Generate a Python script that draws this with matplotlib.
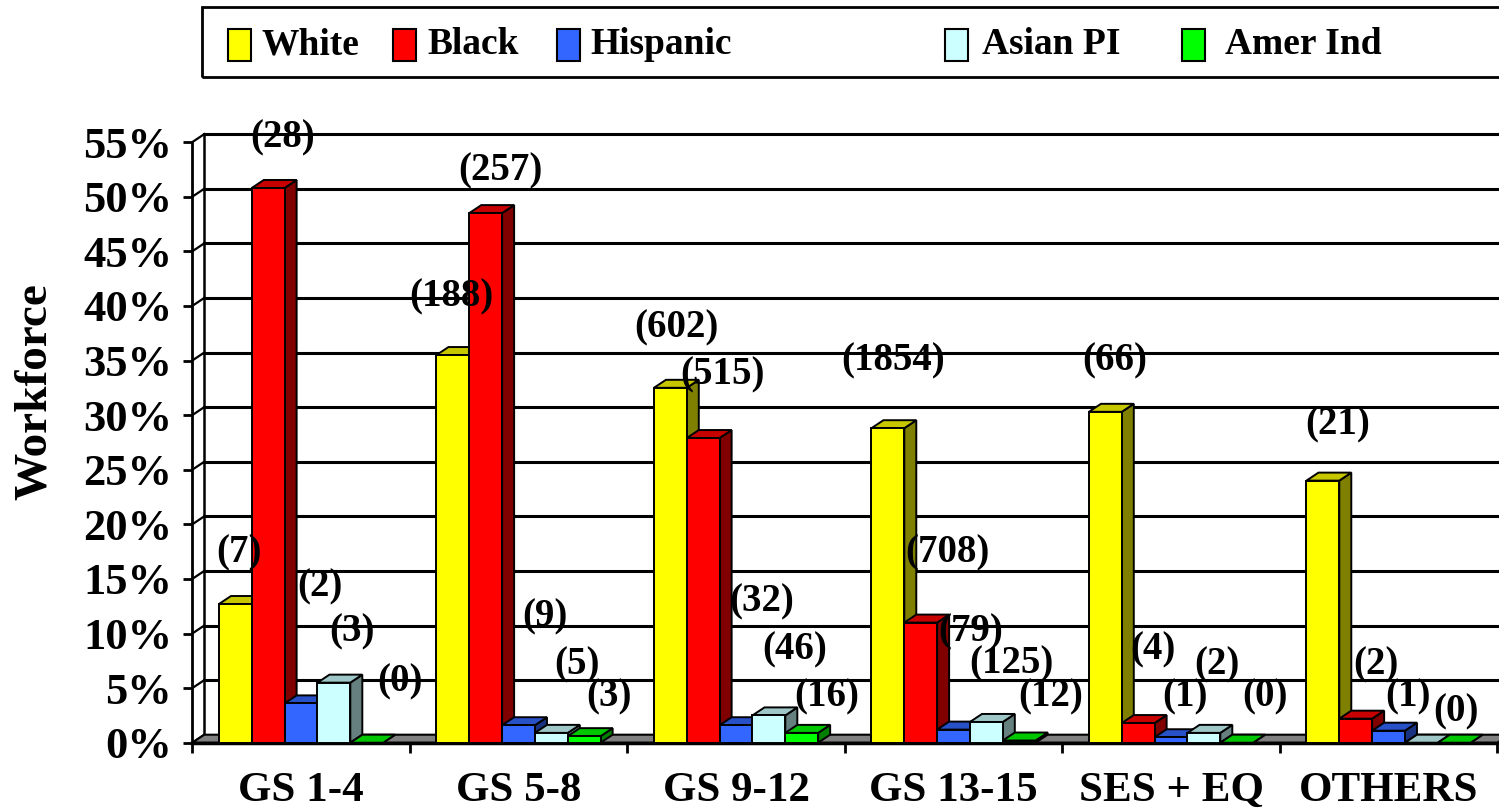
import matplotlib
matplotlib.use("Agg")
import matplotlib.pyplot as plt
from matplotlib.patches import Polygon, Rectangle
from matplotlib.colors import to_rgb

# Данные
categories = ["GS 1-4", "GS 5-8", "GS 9-12", "GS 13-15", "SES + EQ", "OTHERS"]
series = ["White", "Black", "Hispanic", "Asian PI", "Amer Ind"]

white = [12.7, 35.5, 32.5, 28.8, 30.3, 24.0]
black = [50.8, 48.5, 27.9, 11.0, 1.8, 2.2]
hispanic = [3.6, 1.6, 1.6, 1.2, 0.5, 1.1]
asian = [5.5, 0.9, 2.5, 1.9, 0.9, 0.0]
amerind = [0.0, 0.6, 0.9, 0.2, 0.0, 0.0]

white_n = [7, 188, 602, 1854, 66, 21]
black_n = [28, 257, 515, 708, 4, 2]
hispanic_n = [2, 9, 32, 79, 1, 1]
asian_n = [3, 5, 46, 125, 2, None]
amerind_n = [0, 3, 16, 12, 0, 0]

values = [white, black, hispanic, asian, amerind]
counts = [white_n, black_n, hispanic_n, asian_n, amerind_n]

# положение подписей (высота в %, сдвиг вправо в пикселях)
label_y = [
    [17.4, 40.8, 38.0, 35.0, 35.0, 29.1],
    [55.4, 52.4, 33.7, 17.4, 8.5, 7.1],
    [14.3, 11.5, 12.9, 10.1, 4.2, 4.2],
    [10.1, 7.1, 8.5, 7.2, 7.1, 0.0],
    [5.6, 4.2, 4.2, 4.2, 4.2, 2.8],
]
label_dx = [
    [4, -1, 6, 5, 9, 15],
    [14, 15, 19, 27, 15, 20],
    [19, 26, 26, 17, 14, 19],
    [18, 26, 26, 25, 13, 0],
    [33, 25, 25, 31, 28, 2],
]

colors = ["#FFFF00", "#FF0000", "#3366FF", "#CCFFFF", "#00FF00"]


def shade(c, k):
    r, g, b = to_rgb(c)
    return (r * k, g * k, b * k)


plt.rcParams["font.family"] = ["Liberation Serif", "DejaVu Serif"]
plt.rcParams["font.weight"] = "bold"

W, H = 1499, 808
fig = plt.figure(figsize=(W / 100, H / 100), dpi=100)

ax_l, ax_r, ax_b, ax_t = 192.3, 1497.3, 742.7, 142.1
ax = fig.add_axes([ax_l / W, 1 - ax_b / H, (ax_r - ax_l) / W, (ax_b - ax_t) / H])
ax.set_xlim(0, 6)
ax.set_ylim(0, 55)

px_x = 6 / (ax_r - ax_l)
px_y = 55 / (ax_b - ax_t)
dx = 12 * px_x
dy = 8 * px_y

# Задняя стенка и сетка
for v in range(5, 60, 5):
    ax.plot([dx, 6 + dx], [v + dy, v + dy], color="black", lw=2.2, clip_on=False, zorder=1)
for v in range(0, 60, 5):
    ax.plot([0, dx], [v, v + dy], color="black", lw=1.6, clip_on=False, zorder=1)
ax.plot([dx, dx], [dy, 55 + dy], color="black", lw=1.8, clip_on=False, zorder=1)

# Пол
floor = Polygon([(0, 0), (6, 0), (6 + dx, dy), (dx, dy)], closed=True,
                facecolor="#808080", edgecolor="black", lw=1.5, clip_on=False, zorder=2)
ax.add_patch(floor)

# Столбцы
w = 0.151
start = (1 - 5 * w) / 2
z = 3
for ci in range(len(categories)):
    for si in range(len(series)):
        h = values[si][ci]
        x0 = ci + start + si * w
        c = colors[si]
        front = Rectangle((x0, 0), w, h, facecolor=c, edgecolor="black", lw=1.4,
                          clip_on=False, zorder=z)
        top = Polygon([(x0, h), (x0 + w, h), (x0 + w + dx, h + dy), (x0 + dx, h + dy)],
                      closed=True, facecolor=shade(c, 0.78), edgecolor="black", lw=1.4,
                      clip_on=False, zorder=z)
        side = Polygon([(x0 + w, 0), (x0 + w + dx, dy), (x0 + w + dx, h + dy), (x0 + w, h)],
                       closed=True, facecolor=shade(c, 0.5), edgecolor="black", lw=1.4,
                       clip_on=False, zorder=z)
        ax.add_patch(side)
        ax.add_patch(top)
        ax.add_patch(front)
        z += 0.01

# Подписи значений
for si in range(len(series)):
    for ci in range(len(categories)):
        n = counts[si][ci]
        if n is None:
            continue
        xc = ci + start + si * w + w / 2 + label_dx[si][ci] * px_x
        ax.text(xc, label_y[si][ci], f"({n})", ha="center", va="center",
                fontsize=28, fontweight="bold", zorder=20, clip_on=False)

# Оси
for s in ["top", "right"]:
    ax.spines[s].set_visible(False)
ax.spines["left"].set_linewidth(2)
ax.spines["bottom"].set_linewidth(2.5)
ax.spines["left"].set_zorder(2.5)
ax.spines["bottom"].set_zorder(2.5)

ax.set_yticks(range(0, 60, 5))
ax.set_yticklabels([f"{v}%" for v in range(0, 60, 5)], fontsize=32, fontweight="bold")
ax.tick_params(axis="y", direction="out", length=6.5, width=2, pad=8)

ax.set_xticks(range(0, 7))
ax.set_xticklabels([])
ax.tick_params(axis="x", which="major", direction="out", length=7, width=2)
ax.set_xticks([i + 0.5 for i in range(6)], minor=True)
ax.set_xticklabels(categories, minor=True, fontsize=31, fontweight="bold")
ax.tick_params(axis="x", which="minor", length=0, pad=21)

fig.text(35 / W, 1 - 392 / H, "Workforce", rotation=90, ha="center", va="center",
         fontsize=34, fontweight="bold")

# Легенда
box = Rectangle((202 / W, 1 - 77 / H), (1520 - 202) / W, 70 / H, transform=fig.transFigure,
                fill=False, edgecolor="black", lw=2, clip_on=False)
fig.patches.append(box)
leg_box_x = [228, 393, 557, 945, 1182]
leg_text_x = [262, 427, 590, 982, 1225]
for si in range(len(series)):
    sq = Rectangle((leg_box_x[si] / W, 1 - 61 / H), 23 / W, 32 / H, transform=fig.transFigure,
                   facecolor=colors[si], edgecolor="black", lw=1.5, clip_on=False)
    fig.patches.append(sq)
    fig.text(leg_text_x[si] / W, 1 - 45 / H, series[si], ha="left", va="center",
             fontsize=27, fontweight="bold")

fig.savefig("out.png", dpi=100)
